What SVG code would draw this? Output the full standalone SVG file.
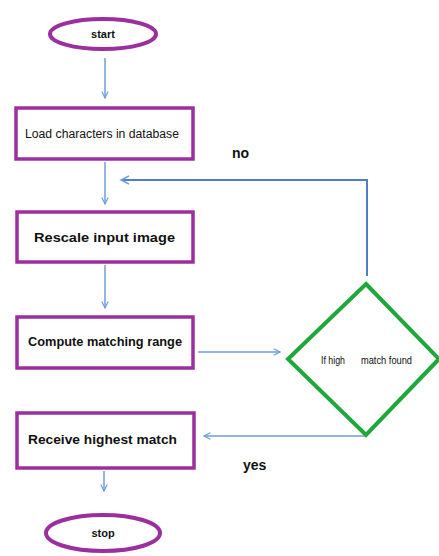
<svg xmlns="http://www.w3.org/2000/svg" width="439" height="556" viewBox="0 0 439 556">
  <style>
    .term { fill: #ffffff; stroke: #9b2f9e; stroke-width: 4; }
    .proc { fill: #ffffff; stroke: #9b2f9e; stroke-width: 3.5; }
    .dec { fill: #ffffff; stroke: #1fa83a; stroke-width: 4; }
    .label { font-family: "Liberation Sans", Arial, sans-serif; font-weight: bold; fill: #111111; }
    .thin { font-weight: normal; }
    .conn { fill: none; stroke: #6f9fd8; stroke-width: 1.5; }
    .loop { fill: none; stroke: #4f7fc2; stroke-width: 2; }
  </style>
  <defs>
    <marker id="open" viewBox="0 0 10 10" refX="9" refY="5" markerWidth="8" markerHeight="8" orient="auto" markerUnits="userSpaceOnUse">
      <path d="M1,1 L9,5 L1,9" fill="none" stroke="#6f9fd8" stroke-width="1.5"/>
    </marker>
  </defs>
  <rect width="439" height="556" fill="#ffffff"/>

  <g id="connectors">
    <line class="conn" x1="105" y1="58" x2="105" y2="98" marker-end="url(#open)"/>
    <line class="conn" x1="105" y1="162" x2="105" y2="204" marker-end="url(#open)"/>
    <line class="conn" x1="105" y1="265" x2="105" y2="308" marker-end="url(#open)"/>
    <line class="conn" x1="198" y1="352" x2="280" y2="352" marker-end="url(#open)"/>
    <polyline class="loop" points="367,276 367,180 121,180"/>
    <path d="M129,176 L121,180 L129,184" fill="none" stroke="#6f9fd8" stroke-width="1.5"/>
    <polyline class="conn" points="366,436 204,436" marker-end="url(#open)"/>
    <line class="conn" x1="104" y1="471" x2="104" y2="491" marker-end="url(#open)"/>
  </g>

  <g id="start">
    <ellipse class="term" cx="103" cy="34" rx="53" ry="15"/>
    <text class="label" x="103" y="38" font-size="11" text-anchor="middle">start</text>
  </g>

  <g id="load">
    <rect class="proc" x="16" y="108" width="177" height="51"/>
    <text class="label thin" x="25" y="138" font-size="12.5" textLength="154" lengthAdjust="spacingAndGlyphs">Load characters in database</text>
  </g>

  <g id="rescale">
    <rect class="proc" x="17" y="212" width="176" height="50"/>
    <text class="label" x="34" y="242" font-size="13" textLength="141" lengthAdjust="spacingAndGlyphs">Rescale input image</text>
  </g>

  <g id="compute">
    <rect class="proc" x="17" y="317" width="176" height="51"/>
    <text class="label" x="28" y="346" font-size="12.5" textLength="154" lengthAdjust="spacingAndGlyphs">Compute matching range</text>
  </g>

  <g id="decision">
    <polygon class="dec" points="366,284 439,359 366,435 288,359"/>
    <text class="label thin" y="364" font-size="11">
      <tspan x="321" textLength="24" lengthAdjust="spacingAndGlyphs">If high</tspan>
      <tspan x="361" textLength="51" lengthAdjust="spacingAndGlyphs">match found</tspan>
    </text>
  </g>

  <g id="receive">
    <rect class="proc" x="17" y="413" width="177" height="55"/>
    <text class="label" x="28" y="444" font-size="13.5" textLength="149" lengthAdjust="spacingAndGlyphs">Receive highest match</text>
  </g>

  <g id="stop">
    <ellipse class="term" cx="103" cy="533" rx="57" ry="18"/>
    <text class="label" x="103" y="537" font-size="11" text-anchor="middle">stop</text>
  </g>

  <text class="label" x="232" y="158" font-size="14">no</text>
  <text class="label" x="243" y="470" font-size="14">yes</text>
</svg>
